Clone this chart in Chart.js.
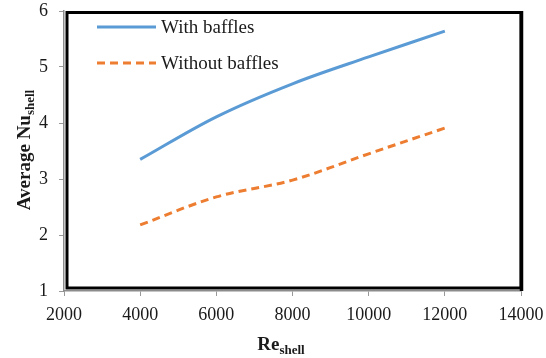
<!DOCTYPE html>
<html>
<head>
<meta charset="utf-8">
<script src="https://cdn.jsdelivr.net/npm/chart.js@4/dist/chart.umd.min.js"></script>
<style>
  html, body { margin: 0; padding: 0; background: #fff; }
  #wrap { width: 546px; height: 358px; }
</style>
</head>
<body>
<div id="wrap"><canvas id="c" width="546" height="358"></canvas></div>
<script>
// Shell-side Reynolds number and averaged Nusselt number
const reynolds = [4000, 6000, 8000, 10000, 12000];
const nuWithBaffles = [3.35, 4.11, 4.70, 5.18, 5.64];
const nuWithoutBaffles = [2.18, 2.68, 2.98, 3.45, 3.91];
const seriesLabels = ['With baffles', 'Without baffles'];
const xTickValues = [2000, 4000, 6000, 8000, 10000, 12000, 14000];
const yTickValues = [1, 2, 3, 4, 5, 6];

const SERIF = '"Liberation Serif", "Times New Roman", serif';

function toPoints(xs, ys) {
  return xs.map((x, i) => ({ x: x, y: ys[i] }));
}

// Axes keep a fixed size and ask for no extra edge padding
function fixSize(scale, prop, size) {
  scale[prop] = size;
  scale.paddingTop = 0;
  scale.paddingBottom = 0;
  scale.paddingLeft = 0;
  scale.paddingRight = 0;
}

// Text with a lowered, smaller subscript, centred on (0,0)
function drawSubscripted(ctx, main, sub, mainSize, subSize, subDrop) {
  ctx.font = 'bold ' + mainSize + 'px ' + SERIF;
  const wMain = ctx.measureText(main).width;
  ctx.font = 'bold ' + subSize + 'px ' + SERIF;
  const wSub = ctx.measureText(sub).width;
  const start = -(wMain + wSub) / 2;
  ctx.textAlign = 'left';
  ctx.textBaseline = 'alphabetic';
  ctx.font = 'bold ' + mainSize + 'px ' + SERIF;
  ctx.fillText(main, start, 0);
  ctx.font = 'bold ' + subSize + 'px ' + SERIF;
  ctx.fillText(sub, start + wMain, subDrop);
}

const frameAndLabels = {
  id: 'frameAndLabels',
  afterDatasetsDraw(chart) {
    const ctx = chart.ctx;
    const a = chart.chartArea;
    ctx.save();
    // heavy plot-area frame
    ctx.strokeStyle = '#000';
    ctx.lineWidth = 3;
    ctx.beginPath();
    ctx.moveTo(a.left + 3, a.bottom - 3);
    ctx.lineTo(a.left + 3, a.top + 1.5);
    ctx.lineTo(a.right, a.top + 1.5);
    ctx.lineTo(a.right, a.bottom - 3);
    ctx.closePath();
    ctx.stroke();
    ctx.lineWidth = 3.5;
    ctx.beginPath();
    ctx.moveTo(a.right + 0.5, a.top);
    ctx.lineTo(a.right + 0.5, a.bottom);
    ctx.stroke();

    // legend inside the plot area
    const rows = [27, 63];
    chart.data.datasets.forEach((ds, i) => {
      const y = rows[i];
      ctx.strokeStyle = ds.borderColor;
      ctx.lineWidth = ds.borderWidth;
      ctx.setLineDash(ds.borderDash || []);
      ctx.beginPath();
      ctx.moveTo(97, y);
      ctx.lineTo(156, y);
      ctx.stroke();
      ctx.setLineDash([]);
      ctx.fillStyle = '#1a1a1a';
      ctx.font = '19px ' + SERIF;
      ctx.textAlign = 'left';
      ctx.textBaseline = 'middle';
      ctx.fillText(ds.label, 161, y + 1);
    });

    // axis titles
    ctx.fillStyle = '#1a1a1a';
    ctx.save();
    ctx.translate(281, 350);
    drawSubscripted(ctx, 'Re', 'shell', 19, 13, 4);
    ctx.restore();

    ctx.save();
    ctx.translate(30, 150);
    ctx.rotate(-Math.PI / 2);
    drawSubscripted(ctx, 'Average Nu', 'shell', 19, 13, 4);
    ctx.restore();

    ctx.restore();
  }
};

new Chart(document.getElementById('c'), {
  type: 'line',
  data: {
    datasets: [
      {
        label: seriesLabels[0],
        data: toPoints(reynolds, nuWithBaffles),
        borderColor: '#5B9BD5',
        borderWidth: 3,
        pointRadius: 0,
        tension: 0.35,
        fill: false
      },
      {
        label: seriesLabels[1],
        data: toPoints(reynolds, nuWithoutBaffles),
        borderColor: '#ED7D31',
        borderWidth: 3,
        borderDash: [8, 5],
        pointRadius: 0,
        tension: 0.35,
        fill: false
      }
    ]
  },
  options: {
    responsive: false,
    animation: false,
    layout: { padding: { top: 11, right: 25, left: 0, bottom: 0 } },
    plugins: {
      legend: { display: false },
      tooltip: { enabled: false }
    },
    scales: {
      x: {
        type: 'linear',
        min: xTickValues[0],
        max: xTickValues[xTickValues.length - 1],
        afterBuildTicks(scale) { scale.ticks = xTickValues.map(v => ({ value: v })); },
        afterFit(scale) { fixSize(scale, 'height', 67); },
        grid: { drawOnChartArea: false, drawTicks: true, tickLength: 5, color: '#999', lineWidth: 1 },
        border: { display: true, color: '#8c8c8c', width: 1.5 },
        ticks: {
          padding: 8,
          maxRotation: 0,
          color: '#1a1a1a',
          font: { family: SERIF, size: 18 },
          callback: v => String(v)
        }
      },
      y: {
        type: 'linear',
        min: yTickValues[0],
        max: yTickValues[yTickValues.length - 1],
        afterBuildTicks(scale) { scale.ticks = yTickValues.map(v => ({ value: v })); },
        afterFit(scale) { fixSize(scale, 'width', 64); },
        grid: { drawOnChartArea: false, drawTicks: true, tickLength: 5, color: '#999', lineWidth: 1 },
        border: { display: true, color: '#8c8c8c', width: 1.5 },
        ticks: {
          padding: 11,
          color: '#1a1a1a',
          font: { family: SERIF, size: 18 },
          callback: v => String(v)
        }
      }
    }
  },
  plugins: [frameAndLabels]
});
</script>
</body>
</html>
